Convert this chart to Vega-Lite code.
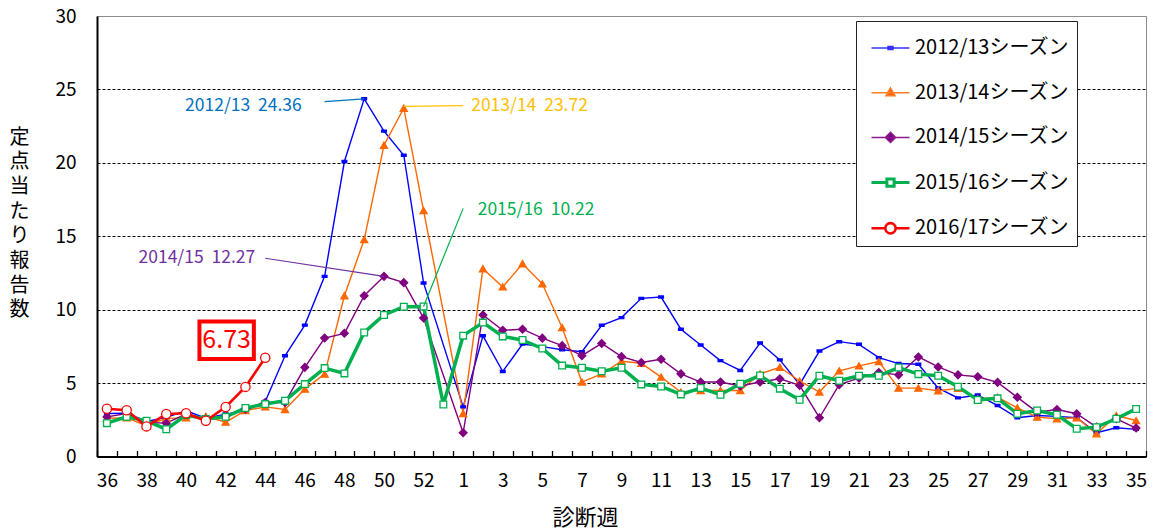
{
  "$schema": "https://vega.github.io/schema/vega-lite/v6.json",
  "width": 1049,
  "height": 440.5,
  "autosize": "none",
  "padding": {"left": 97, "top": 16, "right": 10, "bottom": 74.5},
  "background": "white",
  "config": {"view": {"stroke": "#8c8c8c", "strokeWidth": 1}, "font": "Noto Sans CJK JP"},
  "datasets": {
    "flu": [
      {"season":"2012/13シーズン","week":"36","value":2.93},{"season":"2012/13シーズン","week":"37","value":2.95},{"season":"2012/13シーズン","week":"38","value":2.39},{"season":"2012/13シーズン","week":"39","value":2.66},{"season":"2012/13シーズン","week":"40","value":3.11},{"season":"2012/13シーズン","week":"41","value":2.61},{"season":"2012/13シーズン","week":"42","value":2.89},{"season":"2012/13シーズン","week":"43","value":3.11},{"season":"2012/13シーズン","week":"44","value":3.75},{"season":"2012/13シーズン","week":"45","value":6.86},{"season":"2012/13シーズン","week":"46","value":8.95},{"season":"2012/13シーズン","week":"47","value":12.27},{"season":"2012/13シーズン","week":"48","value":20.09},{"season":"2012/13シーズン","week":"49","value":24.36},{"season":"2012/13シーズン","week":"50","value":22.16},{"season":"2012/13シーズン","week":"51","value":20.52},{"season":"2012/13シーズン","week":"52","value":11.82},
      {"season":"2012/13シーズン","week":"1","value":3.38},{"season":"2012/13シーズン","week":"2","value":8.22},{"season":"2012/13シーズン","week":"3","value":5.79},{"season":"2012/13シーズン","week":"4","value":7.66},{"season":"2012/13シーズン","week":"5","value":7.48},{"season":"2012/13シーズン","week":"6","value":7.27},{"season":"2012/13シーズン","week":"7","value":7.14},{"season":"2012/13シーズン","week":"8","value":8.94},{"season":"2012/13シーズン","week":"9","value":9.46},{"season":"2012/13シーズン","week":"10","value":10.77},{"season":"2012/13シーズン","week":"11","value":10.86},{"season":"2012/13シーズン","week":"12","value":8.67},{"season":"2012/13シーズン","week":"13","value":7.59},{"season":"2012/13シーズン","week":"14","value":6.53},{"season":"2012/13シーズン","week":"15","value":5.86},{"season":"2012/13シーズン","week":"16","value":7.73},{"season":"2012/13シーズン","week":"17","value":6.58},{"season":"2012/13シーズン","week":"18","value":4.91},{"season":"2012/13シーズン","week":"19","value":7.18},{"season":"2012/13シーズン","week":"20","value":7.82},{"season":"2012/13シーズン","week":"21","value":7.64},{"season":"2012/13シーズン","week":"22","value":6.73},{"season":"2012/13シーズン","week":"23","value":6.33},{"season":"2012/13シーズン","week":"24","value":6.28},{"season":"2012/13シーズン","week":"25","value":4.66},{"season":"2012/13シーズン","week":"26","value":3.99},{"season":"2012/13シーズン","week":"27","value":4.19},{"season":"2012/13シーズン","week":"28","value":3.47},{"season":"2012/13シーズン","week":"29","value":2.64},{"season":"2012/13シーズン","week":"30","value":2.79},{"season":"2012/13シーズン","week":"31","value":2.73},{"season":"2012/13シーズン","week":"32","value":2.64},{"season":"2012/13シーズン","week":"33","value":1.62},{"season":"2012/13シーズン","week":"34","value":1.96},{"season":"2012/13シーズン","week":"35","value":1.85},

      {"season":"2013/14シーズン","week":"36","value":2.6},{"season":"2013/14シーズン","week":"37","value":2.63},{"season":"2013/14シーズン","week":"38","value":2.1},{"season":"2013/14シーズン","week":"39","value":2.6},{"season":"2013/14シーズン","week":"40","value":2.63},{"season":"2013/14シーズン","week":"41","value":2.74},{"season":"2013/14シーズン","week":"42","value":2.34},{"season":"2013/14シーズン","week":"43","value":3.13},{"season":"2013/14シーズン","week":"44","value":3.38},{"season":"2013/14シーズン","week":"45","value":3.2},{"season":"2013/14シーズン","week":"46","value":4.59},{"season":"2013/14シーズン","week":"47","value":5.61},{"season":"2013/14シーズン","week":"48","value":10.95},{"season":"2013/14シーズン","week":"49","value":14.77},{"season":"2013/14シーズン","week":"50","value":21.2},{"season":"2013/14シーズン","week":"51","value":23.72},{"season":"2013/14シーズン","week":"52","value":16.75},
      {"season":"2013/14シーズン","week":"1","value":2.93},{"season":"2013/14シーズン","week":"2","value":12.79},{"season":"2013/14シーズン","week":"3","value":11.55},{"season":"2013/14シーズン","week":"4","value":13.13},{"season":"2013/14シーズン","week":"5","value":11.76},{"season":"2013/14シーズン","week":"6","value":8.78},{"season":"2013/14シーズン","week":"7","value":5.07},{"season":"2013/14シーズン","week":"8","value":5.63},{"season":"2013/14シーズン","week":"9","value":6.49},{"season":"2013/14シーズン","week":"10","value":6.35},{"season":"2013/14シーズン","week":"11","value":5.41},{"season":"2013/14シーズン","week":"12","value":4.39},{"season":"2013/14シーズン","week":"13","value":4.5},{"season":"2013/14シーズン","week":"14","value":4.5},{"season":"2013/14シーズン","week":"15","value":4.5},{"season":"2013/14シーズン","week":"16","value":5.63},{"season":"2013/14シーズン","week":"17","value":6.08},{"season":"2013/14シーズン","week":"18","value":5.14},{"season":"2013/14シーズン","week":"19","value":4.39},{"season":"2013/14シーズン","week":"20","value":5.83},{"season":"2013/14シーズン","week":"21","value":6.17},{"season":"2013/14シーズン","week":"22","value":6.46},{"season":"2013/14シーズン","week":"23","value":4.66},{"season":"2013/14シーズン","week":"24","value":4.66},{"season":"2013/14シーズン","week":"25","value":4.48},{"season":"2013/14シーズン","week":"26","value":4.64},{"season":"2013/14シーズン","week":"27","value":3.92},{"season":"2013/14シーズン","week":"28","value":4.03},{"season":"2013/14シーズン","week":"29","value":3.31},{"season":"2013/14シーズン","week":"30","value":2.68},{"season":"2013/14シーズン","week":"31","value":2.57},{"season":"2013/14シーズン","week":"32","value":2.64},{"season":"2013/14シーズン","week":"33","value":1.55},{"season":"2013/14シーズン","week":"34","value":2.79},{"season":"2013/14シーズン","week":"35","value":2.45},

      {"season":"2014/15シーズン","week":"36","value":2.7},{"season":"2014/15シーズン","week":"37","value":2.93},{"season":"2014/15シーズン","week":"38","value":2.32},{"season":"2014/15シーズン","week":"39","value":2.27},{"season":"2014/15シーズン","week":"40","value":2.89},{"season":"2014/15シーズン","week":"41","value":2.55},{"season":"2014/15シーズン","week":"42","value":2.77},{"season":"2014/15シーズン","week":"43","value":3.23},{"season":"2014/15シーズン","week":"44","value":3.68},{"season":"2014/15シーズン","week":"45","value":3.68},{"season":"2014/15シーズン","week":"46","value":6.07},{"season":"2014/15シーズン","week":"47","value":8.07},{"season":"2014/15シーズン","week":"48","value":8.39},{"season":"2014/15シーズン","week":"49","value":10.95},{"season":"2014/15シーズン","week":"50","value":12.27},{"season":"2014/15シーズン","week":"51","value":11.84},{"season":"2014/15シーズン","week":"52","value":9.43},
      {"season":"2014/15シーズン","week":"1","value":1.62},{"season":"2014/15シーズン","week":"2","value":9.64},{"season":"2014/15シーズン","week":"3","value":8.6},{"season":"2014/15シーズン","week":"4","value":8.67},{"season":"2014/15シーズン","week":"5","value":8.06},{"season":"2014/15シーズン","week":"6","value":7.55},{"season":"2014/15シーズン","week":"7","value":6.87},{"season":"2014/15シーズン","week":"8","value":7.7},{"season":"2014/15シーズン","week":"9","value":6.8},{"season":"2014/15シーズン","week":"10","value":6.4},{"season":"2014/15シーズン","week":"11","value":6.62},{"season":"2014/15シーズン","week":"12","value":5.63},{"season":"2014/15シーズン","week":"13","value":5.07},{"season":"2014/15シーズン","week":"14","value":5.07},{"season":"2014/15シーズン","week":"15","value":4.8},{"season":"2014/15シーズン","week":"16","value":5.07},{"season":"2014/15シーズン","week":"17","value":5.29},{"season":"2014/15シーズン","week":"18","value":4.84},{"season":"2014/15シーズン","week":"19","value":2.64},{"season":"2014/15シーズン","week":"20","value":4.89},{"season":"2014/15シーズン","week":"21","value":5.34},{"season":"2014/15シーズン","week":"22","value":5.72},{"season":"2014/15シーズン","week":"23","value":5.56},{"season":"2014/15シーズン","week":"24","value":6.78},{"season":"2014/15シーズン","week":"25","value":6.1},{"season":"2014/15シーズン","week":"26","value":5.56},{"season":"2014/15シーズン","week":"27","value":5.43},{"season":"2014/15シーズン","week":"28","value":5.05},{"season":"2014/15シーズン","week":"29","value":4.03},{"season":"2014/15シーズン","week":"30","value":3.02},{"season":"2014/15シーズン","week":"31","value":3.2},{"season":"2014/15シーズン","week":"32","value":2.91},{"season":"2014/15シーズン","week":"33","value":2.0},{"season":"2014/15シーズン","week":"34","value":2.57},{"season":"2014/15シーズン","week":"35","value":1.94},

      {"season":"2015/16シーズン","week":"36","value":2.27},{"season":"2015/16シーズン","week":"37","value":2.7},{"season":"2015/16シーズン","week":"38","value":2.43},{"season":"2015/16シーズン","week":"39","value":1.86},{"season":"2015/16シーズン","week":"40","value":2.82},{"season":"2015/16シーズン","week":"41","value":2.55},{"season":"2015/16シーズン","week":"42","value":2.7},{"season":"2015/16シーズン","week":"43","value":3.3},{"season":"2015/16シーズン","week":"44","value":3.57},{"season":"2015/16シーズン","week":"45","value":3.8},{"season":"2015/16シーズン","week":"46","value":4.93},{"season":"2015/16シーズン","week":"47","value":6.02},{"season":"2015/16シーズン","week":"48","value":5.66},{"season":"2015/16シーズン","week":"49","value":8.45},{"season":"2015/16シーズン","week":"50","value":9.64},{"season":"2015/16シーズン","week":"51","value":10.2},{"season":"2015/16シーズン","week":"52","value":10.22},{"season":"2015/16シーズン","week":"53","value":3.54},
      {"season":"2015/16シーズン","week":"1","value":8.23},{"season":"2015/16シーズン","week":"2","value":9.12},{"season":"2015/16シーズン","week":"3","value":8.18},{"season":"2015/16シーズン","week":"4","value":7.93},{"season":"2015/16シーズン","week":"5","value":7.36},{"season":"2015/16シーズン","week":"6","value":6.19},{"season":"2015/16シーズン","week":"7","value":6.04},{"season":"2015/16シーズン","week":"8","value":5.81},{"season":"2015/16シーズン","week":"9","value":6.04},{"season":"2015/16シーズン","week":"10","value":4.91},{"season":"2015/16シーズン","week":"11","value":4.77},{"season":"2015/16シーズン","week":"12","value":4.23},{"season":"2015/16シーズン","week":"13","value":4.66},{"season":"2015/16シーズン","week":"14","value":4.21},{"season":"2015/16シーズン","week":"15","value":4.95},{"season":"2015/16シーズン","week":"16","value":5.52},{"season":"2015/16シーズン","week":"17","value":4.62},{"season":"2015/16シーズン","week":"18","value":3.87},{"season":"2015/16シーズン","week":"19","value":5.5},{"season":"2015/16シーズン","week":"20","value":5.16},{"season":"2015/16シーズン","week":"21","value":5.5},{"season":"2015/16シーズン","week":"22","value":5.5},{"season":"2015/16シーズン","week":"23","value":6.06},{"season":"2015/16シーズン","week":"24","value":5.61},{"season":"2015/16シーズン","week":"25","value":5.5},{"season":"2015/16シーズン","week":"26","value":4.75},{"season":"2015/16シーズン","week":"27","value":3.85},{"season":"2015/16シーズン","week":"28","value":3.96},{"season":"2015/16シーズン","week":"29","value":2.91},{"season":"2015/16シーズン","week":"30","value":3.13},{"season":"2015/16シーズン","week":"31","value":2.84},{"season":"2015/16シーズン","week":"32","value":1.89},{"season":"2015/16シーズン","week":"33","value":2.0},{"season":"2015/16シーズン","week":"34","value":2.57},{"season":"2015/16シーズン","week":"35","value":3.24},

      {"season":"2016/17シーズン","week":"36","value":3.25},{"season":"2016/17シーズン","week":"37","value":3.15},{"season":"2016/17シーズン","week":"38","value":2.05},{"season":"2016/17シーズン","week":"39","value":2.9},{"season":"2016/17シーズン","week":"40","value":2.95},{"season":"2016/17シーズン","week":"41","value":2.43},{"season":"2016/17シーズン","week":"42","value":3.37},{"season":"2016/17シーズン","week":"43","value":4.74},{"season":"2016/17シーズン","week":"44","value":6.73}
    ]
  },
  "layer": [
    {
      "data": {"name": "flu"},
      "mark": {"type": "line"},
      "encoding": {
        "x": {"field": "week", "type": "ordinal",
          "scale": {"type": "band", "paddingInner": 0, "paddingOuter": 0, "domain": ["36","37","38","39","40","41","42","43","44","45","46","47","48","49","50","51","52","53","1","2","3","4","5","6","7","8","9","10","11","12","13","14","15","16","17","18","19","20","21","22","23","24","25","26","27","28","29","30","31","32","33","34","35"]},
          "axis": {"title": "診断週", "titleFontSize": 22, "titleFontWeight": "normal", "titleColor": "black", "titleX": 488, "titleY": 61, "titleAlign": "center", "titleBaseline": "middle",
            "labelExpr": "(toNumber(datum.value) >= 36 ? toNumber(datum.value) % 2 == 0 : toNumber(datum.value) % 2 == 1) ? datum.value : ''",
            "labelAngle": 0, "labelFontSize": 19, "labelColor": "black", "labelPadding": 21, "labelOverlap": false,
            "tickBand": "extent", "tickSize": -6, "tickColor": "black", "tickWidth": 1.3,
            "domainColor": "black", "domainWidth": 2, "grid": false}},
        "y": {"field": "value", "type": "quantitative",
          "scale": {"domain": [0, 30], "nice": false},
          "axis": {"values": [0, 5, 10, 15, 20, 25, 30], "grid": true,
            "gridDash": [3, 2], "gridColor": {"condition": {"test": "datum.value == 30", "value": "#8c8c8c"}, "value": "black"}, "gridWidth": 1,
            "ticks": false, "labelFontSize": 19, "labelColor": "black", "labelPadding": 21,
            "domainColor": "black", "domainWidth": 2,
            "title": ["定", "点", "当", "た", "り", "報", "告", "数"], "titleAngle": 0, "titleFontSize": 20, "titleFontWeight": "normal", "titleColor": "black",
            "titleLineHeight": 24.7, "titleX": -78, "titleY": 121, "titleAlign": "center", "titleBaseline": "middle"}},
        "color": {"field": "season", "type": "nominal",
          "scale": {"domain": ["2012/13シーズン","2013/14シーズン","2014/15シーズン","2015/16シーズン","2016/17シーズン"], "range": ["#0000FF","#FF6600","#800080","#00B050","#FF0000"]}, "legend": null},
        "strokeWidth": {"field": "season", "type": "ordinal",
          "scale": {"type": "ordinal", "domain": ["2012/13シーズン","2013/14シーズン","2014/15シーズン","2015/16シーズン","2016/17シーズン"], "range": [1.4, 1.4, 1.4, 3.5, 2.6]}, "legend": null}
      }
    },
    {
      "data": {"name": "flu"},
      "mark": {"type": "point", "opacity": 1, "filled": false, "strokeWidth": 1.3},
      "encoding": {
        "x": {"field": "week", "type": "ordinal"},
        "y": {"field": "value", "type": "quantitative"},
        "color": {"field": "season", "type": "nominal",
          "scale": {"domain": ["2012/13シーズン","2013/14シーズン","2014/15シーズン","2015/16シーズン","2016/17シーズン"], "range": ["#0000FF","#FF6600","#800080","#00B050","#FF0000"]}, "legend": null},
        "fill": {"field": "season", "type": "nominal",
          "scale": {"domain": ["2012/13シーズン","2013/14シーズン","2014/15シーズン","2015/16シーズン","2016/17シーズン"], "range": ["#0000FF","#FF6600","#800080","#FFFFFF","#FFFFFF"]}, "legend": null},
        "shape": {"field": "season", "type": "nominal",
          "scale": {"domain": ["2012/13シーズン","2013/14シーズン","2014/15シーズン","2015/16シーズン","2016/17シーズン"], "range": ["M-1,-0.45H1V0.45H-1Z", "triangle-up", "diamond", "square", "circle"]}, "legend": null},
        "size": {"field": "season", "type": "ordinal",
          "scale": {"type": "ordinal", "domain": ["2012/13シーズン","2013/14シーズン","2014/15シーズン","2015/16シーズン","2016/17シーズン"], "range": [22, 50, 60, 45, 85]}, "legend": null}
      }
    },
    {
      "data": {"name": "flu"},
      "transform": [{"filter": "datum.value < 0"}],
      "mark": {"type": "point", "opacity": 1, "size": 1444},
      "encoding": {
        "shape": {"field": "season", "type": "nominal",
          "scale": {"domain": ["2012/13シーズン","2013/14シーズン","2014/15シーズン","2015/16シーズン","2016/17シーズン"],
            "range": ["M-1,0H1M-0.13,-0.08H0.13V0.08H-0.13Z",
                      "M-1,0H1M0,-0.26L0.24,0.16H-0.24Z",
                      "M-1,0H1M0,-0.27L0.27,0L0,0.27L-0.27,0Z",
                      "M-1,0H-0.19M0.19,0H1M-0.19,-0.19H0.19V0.19H-0.19Z",
                      "M-1,0H-0.27M0.27,0H1M-0.27,0A0.27,0.27,0,1,1,0.27,0A0.27,0.27,0,1,1,-0.27,0Z"]},
          "legend": {"title": null, "orient": "none", "legendX": 759, "legendY": 5, "padding": 7, "rowPadding": 14.7,
            "symbolSize": 1444, "symbolOffset": 7, "labelOffset": 4, "labelFontSize": 20, "labelColor": "black", "labelLimit": 400,
            "labelExpr": "datum.label + '\u3000'",
            "strokeColor": "#222222", "fillColor": "white"}},
        "stroke": {"field": "season", "type": "nominal",
          "scale": {"domain": ["2012/13シーズン","2013/14シーズン","2014/15シーズン","2015/16シーズン","2016/17シーズン"], "range": ["#3333FF","#FF7F27","#8B1A8B","#00B050","#FF0000"]}},
        "fill": {"field": "season", "type": "nominal",
          "scale": {"domain": ["2012/13シーズン","2013/14シーズン","2014/15シーズン","2015/16シーズン","2016/17シーズン"], "range": ["#0000FF","#FF6600","#800080","#FFFFFF","#FFFFFF"]}},
        "strokeWidth": {"field": "season", "type": "ordinal",
          "scale": {"type": "ordinal", "domain": ["2012/13シーズン","2013/14シーズン","2014/15シーズン","2015/16シーズン","2016/17シーズン"], "range": [1.5, 1.5, 1.5, 3, 2.6]}}
      }
    },
    {
      "data": {"values": [
        {"season": "2012/13", "week": "47", "value": 24.17, "week2": "49", "value2": 24.36},
        {"season": "2013/14", "week": "51", "value": 23.85, "week2": "1", "value2": 23.9},
        {"season": "2014/15", "week": "44", "value": 13.5, "week2": "50", "value2": 12.27},
        {"season": "2015/16", "week": "1", "value": 16.9, "week2": "52", "value2": 10.22}
      ]},
      "mark": {"type": "rule", "strokeWidth": 1.2},
      "encoding": {
        "x": {"field": "week", "type": "ordinal"},
        "x2": {"field": "week2"},
        "y": {"field": "value", "type": "quantitative"},
        "y2": {"field": "value2"},
        "color": {"field": "season", "type": "nominal",
          "scale": {"domain": ["2012/13","2013/14","2014/15","2015/16"], "range": ["#0070C0","#FFC000","#7030A0","#00B050"]}, "legend": null}
      }
    },
    {
      "data": {"values": [{"label": "2012/13\u00a0\u00a024.36", "week": "43", "value": 23.84}]},
      "mark": {"type": "text", "fontSize": 17.5, "color": "#0070C0", "align": "center", "baseline": "middle", "dx": -2},
      "encoding": {"x": {"field": "week", "type": "ordinal"}, "y": {"field": "value", "type": "quantitative"}, "text": {"field": "label"}}
    },
    {
      "data": {"values": [{"label": "2013/14\u00a0\u00a023.72", "week": "4", "value": 23.84}]},
      "mark": {"type": "text", "fontSize": 17.5, "color": "#FFC000", "align": "center", "baseline": "middle", "dx": 7},
      "encoding": {"x": {"field": "week", "type": "ordinal"}, "y": {"field": "value", "type": "quantitative"}, "text": {"field": "label"}}
    },
    {
      "data": {"values": [{"label": "2014/15\u00a0\u00a012.27", "week": "41", "value": 13.5}]},
      "mark": {"type": "text", "fontSize": 17.5, "color": "#7030A0", "align": "center", "baseline": "middle", "dx": -9},
      "encoding": {"x": {"field": "week", "type": "ordinal"}, "y": {"field": "value", "type": "quantitative"}, "text": {"field": "label"}}
    },
    {
      "data": {"values": [{"label": "2015/16\u00a0\u00a010.22", "week": "4", "value": 16.79}]},
      "mark": {"type": "text", "fontSize": 17.5, "color": "#00B050", "align": "center", "baseline": "middle", "dx": 13.5},
      "encoding": {"x": {"field": "week", "type": "ordinal"}, "y": {"field": "value", "type": "quantitative"}, "text": {"field": "label"}}
    },
    {
      "data": {"values": [{"label": "6.73", "week": "42", "value": 7.92}]},
      "mark": {"type": "point", "shape": "M-1.447,-1H1.447V1H-1.447Z", "size": 1414, "stroke": "#FF0000", "strokeWidth": 4, "fill": "white", "fillOpacity": 1, "strokeOpacity": 1, "opacity": 1, "xOffset": 1},
      "encoding": {"x": {"field": "week", "type": "ordinal"}, "y": {"field": "value", "type": "quantitative"}}
    },
    {
      "data": {"values": [{"label": "6.73", "week": "42", "value": 7.92}]},
      "mark": {"type": "text", "fontSize": 25, "color": "#FF0000", "align": "center", "baseline": "middle", "dx": 1},
      "encoding": {"x": {"field": "week", "type": "ordinal"}, "y": {"field": "value", "type": "quantitative"}, "text": {"field": "label"}}
    }
  ],
  "resolve": {
    "scale": {"color": "independent", "shape": "independent", "fill": "independent", "size": "independent", "strokeWidth": "independent", "stroke": "independent"}
  }
}
